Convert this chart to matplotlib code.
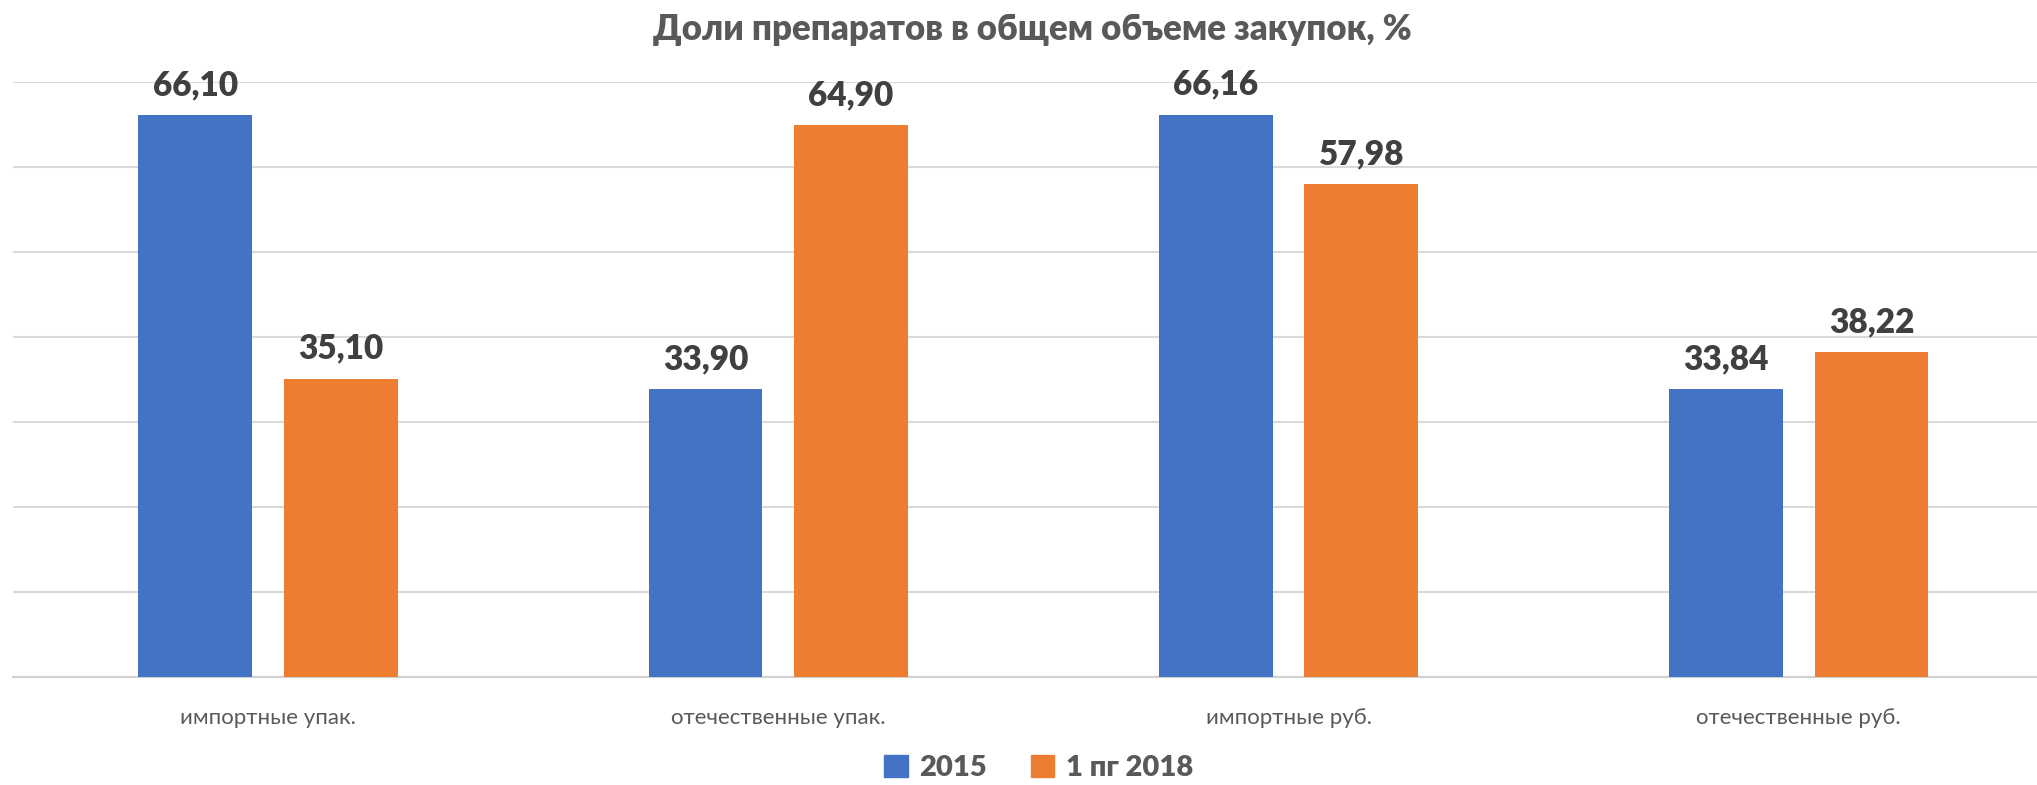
import numpy as np
import matplotlib.pyplot as plt
from matplotlib.patches import Patch

# Data
categories = ['импортные упак.', 'отечественные упак.', 'импортные руб.', 'отечественные руб.']
series_names = ['2015', '1 пг 2018']
values_2015 = [66.10, 33.90, 66.16, 33.84]
values_2018 = [35.10, 64.90, 57.98, 38.22]
colors = ['#4472C4', '#ED7D31']

plt.rcParams['font.family'] = ['Lato', 'DejaVu Sans']

fig = plt.figure(figsize=(20.37, 7.85), dpi=100)
ax = fig.add_axes([13 / 2037, 0.1376, 1 - 13 / 2037, 0.7579])

x = np.arange(len(categories))
width = 0.223
offset = 0.1426

for vals, dx, col in [(values_2015, -offset, colors[0]), (values_2018, offset, colors[1])]:
    bars = ax.bar(x + dx, vals, width=width, color=col, zorder=3)
    for b, v in zip(bars, vals):
        ax.annotate(f'{v:.2f}'.replace('.', ','), (b.get_x() + b.get_width() / 2, v),
                    xytext=(0, 14), textcoords='offset pixels', ha='center', va='bottom',
                    fontsize=24, fontweight='heavy', color='#404040')

ax.set_xlim(-0.5, 3.467)
ax.set_ylim(0, 70)
ax.set_yticks(np.arange(0, 71, 10))
ax.yaxis.grid(True, color='#d9d9d9', linewidth=1.5, zorder=0)
ax.set_yticklabels([])
ax.tick_params(axis='both', length=0)
ax.set_xticks(x)
ax.set_xticklabels(categories, fontsize=16, color='#595959')
ax.tick_params(axis='x', pad=22)
for s in ['top', 'right', 'left']:
    ax.spines[s].set_visible(False)
ax.spines['bottom'].set_color('#d0d0d0')
ax.spines['bottom'].set_linewidth(1.5)

fig.text(0.507, 1 - 29 / 785, 'Доли препаратов в общем объеме закупок, %', ha='center', va='center',
         fontsize=25, fontweight='heavy', color='#595959')

handles = [Patch(color=c, label=n) for c, n in zip(colors, series_names)]
leg = fig.legend(handles=handles, loc='center', bbox_to_anchor=(0.51, 1 - 768 / 785), ncol=2,
                 frameon=False, handlelength=0.8, handleheight=0.8, handletextpad=0.4,
                 columnspacing=1.5, prop={'size': 21})
for t in leg.get_texts():
    t.set_color('#595959')
    t.set_fontweight('heavy')

fig.savefig('out.png', dpi=100)
